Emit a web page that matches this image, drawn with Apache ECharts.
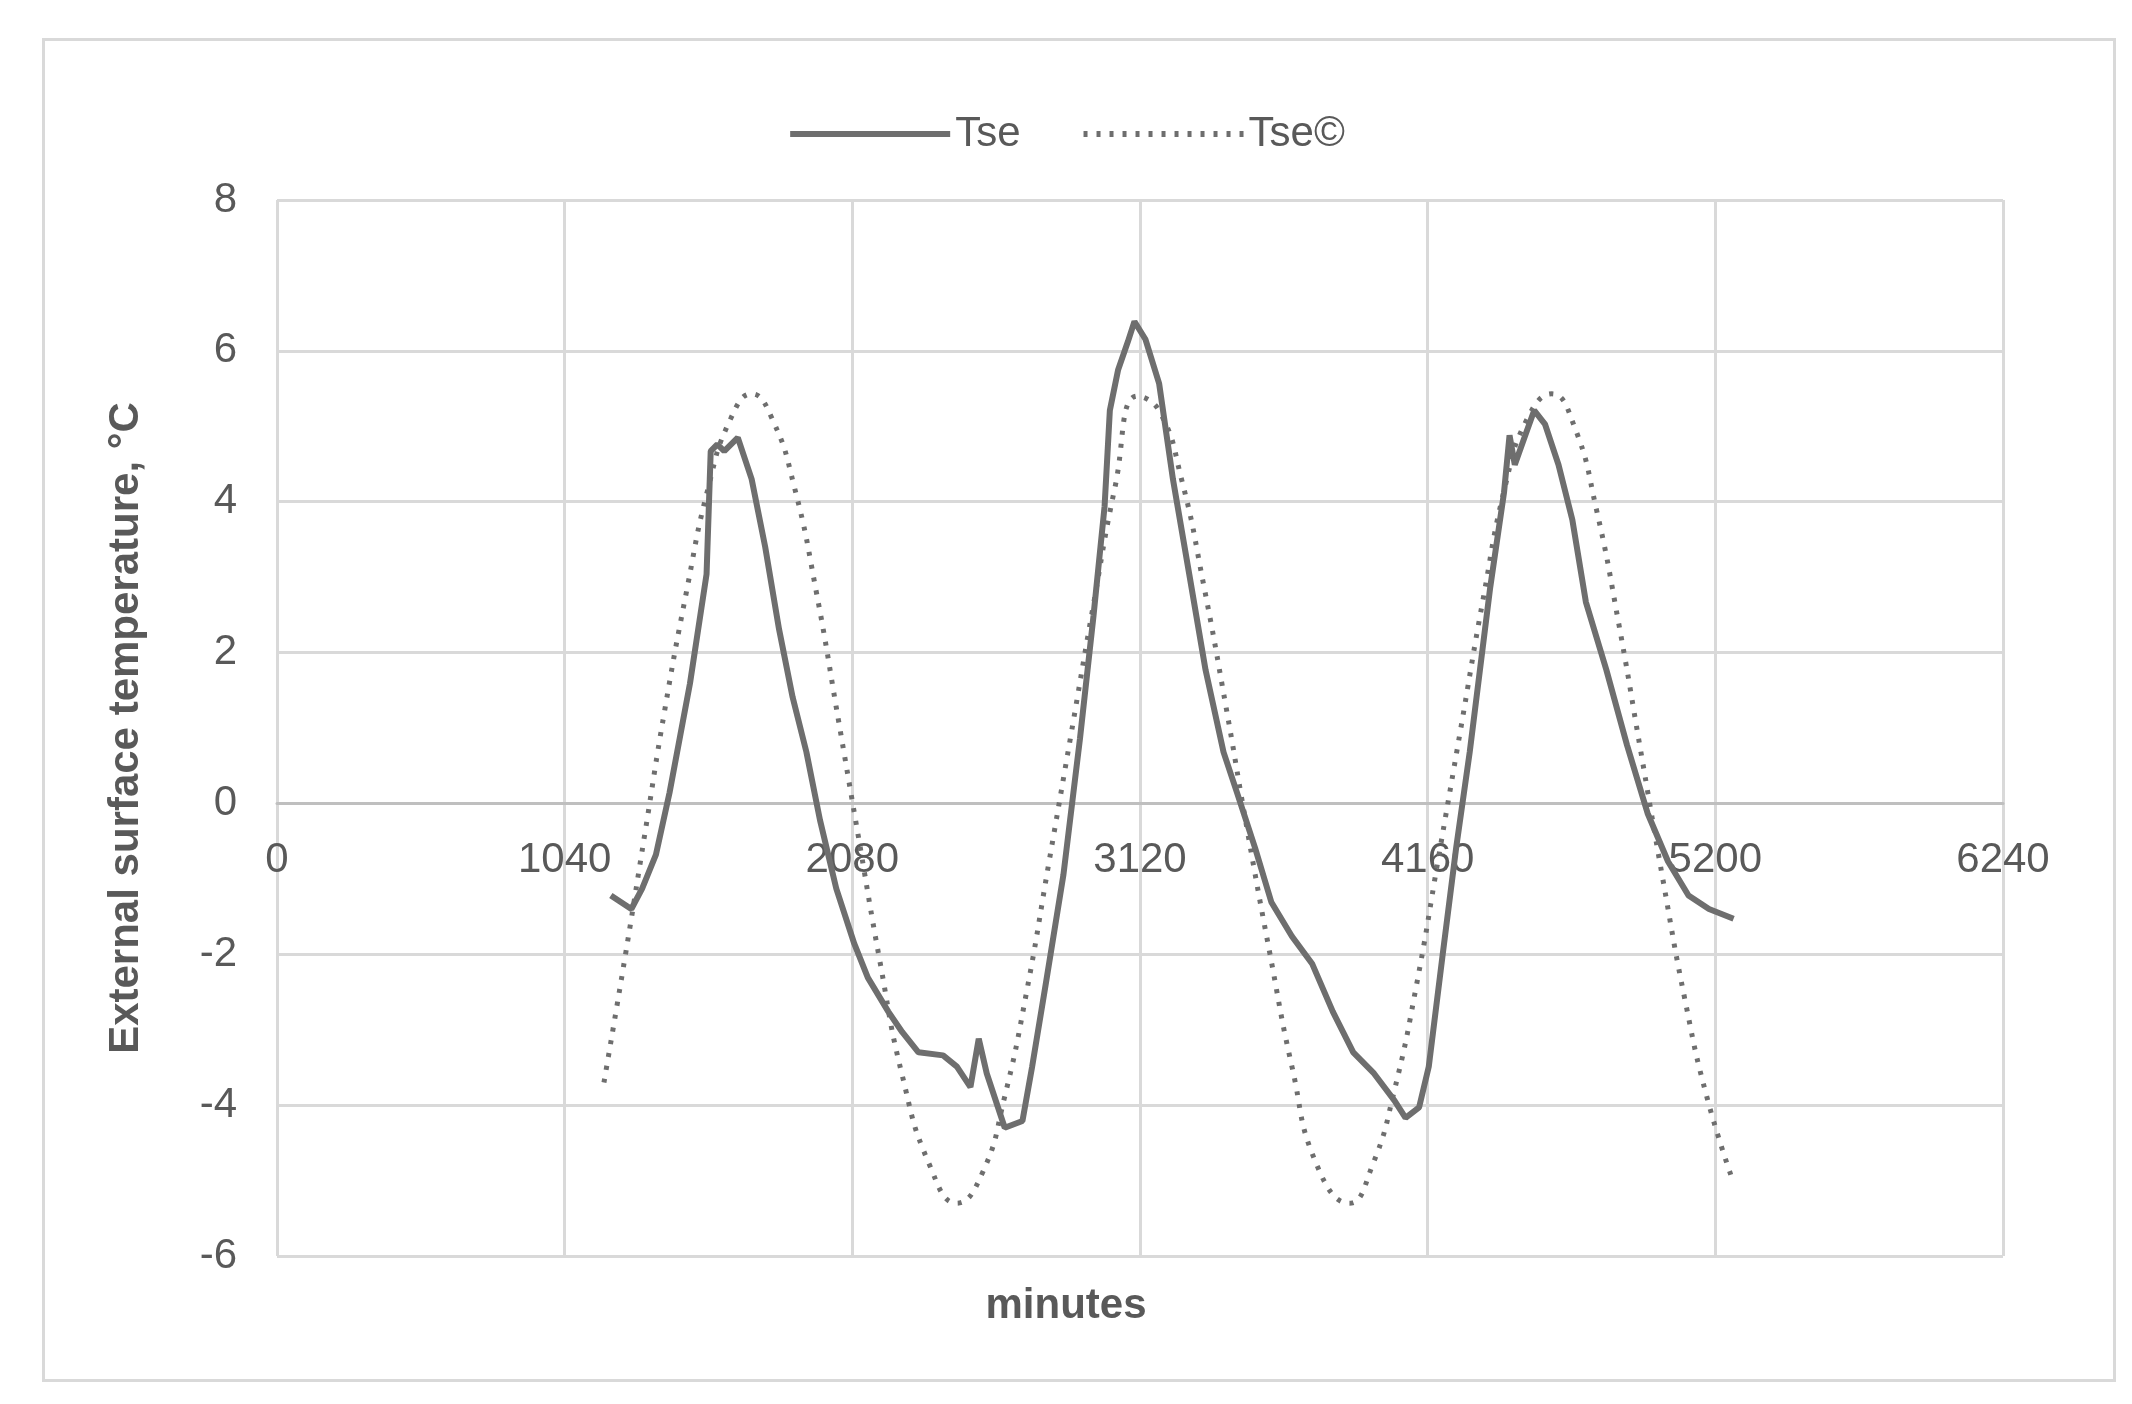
<!DOCTYPE html>
<html><head><meta charset="utf-8">
<script src="https://cdn.jsdelivr.net/npm/echarts@6/dist/echarts.min.js"></script>
<style>html,body{margin:0;padding:0;background:#fff}#c{width:2132px;height:1404px}</style>
</head><body><div id="c"></div>
<script>
const xTicks = [0, 1040, 2080, 3120, 4160, 5200, 6240];
const tseX = [1207,1281,1320,1370,1419,1493,1553,1568,1592,1617,1666,1716,1765,1815,1864,1914,1963,2022,2087,2136,2210,2260,2319,2408,2458,2507,2537,2566,2631,2695,2730,2779,2843,2903,2952,2992,3011,3041,3076,3100,3140,3189,3239,3298,3357,3422,3471,3536,3595,3669,3743,3817,3891,3966,4040,4080,4129,4164,4213,4263,4312,4386,4436,4456,4475,4510,4545,4584,4633,4683,4732,4806,4881,4955,5029,5103,5177,5266];
const tseY = [-1.22,-1.40,-1.13,-0.68,0.14,1.59,3.04,4.67,4.76,4.67,4.85,4.30,3.40,2.31,1.41,0.68,-0.22,-1.13,-1.86,-2.31,-2.76,-3.03,-3.30,-3.34,-3.49,-3.76,-3.12,-3.58,-4.30,-4.21,-3.49,-2.40,-0.95,0.86,2.49,3.94,5.21,5.75,6.12,6.39,6.15,5.57,4.30,3.04,1.77,0.68,0.14,-0.59,-1.31,-1.76,-2.13,-2.76,-3.30,-3.58,-3.94,-4.17,-4.03,-3.49,-2.04,-0.59,0.68,2.86,4.12,4.88,4.49,4.85,5.21,5.03,4.49,3.76,2.67,1.77,0.77,-0.13,-0.77,-1.22,-1.40,-1.53];
const tscX = [1182,1260,1330,1400,1480,1560,1640,1716,1790,1870,1950,2030,2100,2180,2260,2360,2458,2550,2630,2710,2790,2870,2950,3030,3110,3190,3270,3350,3430,3510,3590,3670,3760,3877,3960,4040,4120,4200,4280,4360,4440,4520,4609,4690,4770,4850,4930,5010,5090,5170,5266];
const tscY = [-3.7,-2.0,-0.4,1.2,2.8,4.2,5.1,5.43,5.1,4.2,2.8,1.1,-0.4,-2.1,-3.6,-4.8,-5.3,-4.9,-3.9,-2.5,-0.8,0.9,2.6,4.2,5.4,5.2,4.3,2.9,1.3,-0.4,-2.0,-3.5,-4.8,-5.3,-4.8,-3.8,-2.4,-0.7,1.0,2.7,4.2,5.1,5.43,5.0,3.9,2.4,0.7,-1.0,-2.6,-3.9,-5.03];
const pair = (xs, ys) => xs.map((x, i) => [x, ys[i]]);
const font = 'Liberation Sans, Open Sans, sans-serif';
const gray = '#595959';
const gridTop = 200, gridBottom = 148, gridH = 1404 - gridTop - gridBottom;
const yMin = -6, yMax = 8;
const chart = echarts.init(document.getElementById('c'));
chart.setOption({
  animation: false,
  graphic: [{type:'rect', left:41, top:37, shape:{width:2071, height:1341}, style:{fill:'none', stroke:'#d9d9d9', lineWidth:3}}],
  title: {text:'minutes', left:'center', top:1280, textStyle:{fontFamily:font, fontSize:42, fontWeight:'bold', color:gray}},
  legend: {top:108, left:'center', itemWidth:160, itemHeight:14, itemGap:60, textStyle:{fontFamily:font, fontSize:42, color:gray},
    itemStyle:{opacity:0}, lineStyle:{width:6},
    data:['Tse','Tse©']},
  grid: {left:277, right:129, top:gridTop, bottom:gridBottom},
  xAxis: {type:'value', min:0, max:6240, interval:1040, position:'bottom',
    offset: -Math.round((0 - yMin) / (yMax - yMin) * gridH),
    axisLine:{onZero:false, lineStyle:{color:'#bfbfbf', width:3}}, axisTick:{show:false},
    axisLabel:{fontFamily:font, fontSize:42, color:gray, margin:36, formatter:v=>String(v)},
    splitLine:{show:true, lineStyle:{color:'#d9d9d9', width:3}}},
  yAxis: {type:'value', min:yMin, max:yMax, interval:2, name:'External surface temperature, °C', nameLocation:'middle', nameGap:130,
    nameTextStyle:{fontFamily:font, fontSize:42, fontWeight:'bold', color:gray},
    axisLine:{show:false}, axisTick:{show:false},
    axisLabel:{fontFamily:font, fontSize:42, color:gray, margin:40},
    splitLine:{lineStyle:{color:'#d9d9d9', width:3}}},
  series: [
    {name:'Tse', type:'line', data:pair(tseX,tseY), showSymbol:false, symbol:'none', smooth:false,
     lineStyle:{color:'#6e6e6e', width:6}, itemStyle:{color:'#6e6e6e'}},
    {name:'Tse©', type:'line', data:pair(tscX,tscY), showSymbol:false, symbol:'none', smooth:true,
     lineStyle:{color:'#6e6e6e', width:5, type:[4,9]}, itemStyle:{color:'#6e6e6e'}}
  ]
});
</script></body></html>
